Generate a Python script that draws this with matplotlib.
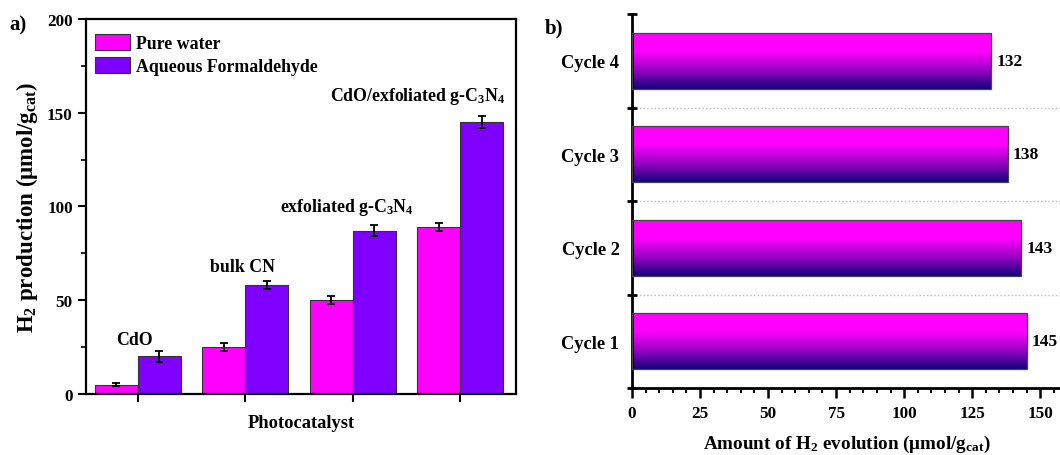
import numpy as np
import matplotlib
matplotlib.use('Agg')
import matplotlib.pyplot as plt
from matplotlib.colors import LinearSegmentedColormap
from matplotlib.ticker import MultipleLocator, FixedLocator

plt.rcParams['font.family'] = ['Liberation Serif', 'DejaVu Serif']
plt.rcParams['font.weight'] = 'bold'
plt.rcParams['mathtext.fontset'] = 'custom'
plt.rcParams['mathtext.rm'] = 'Liberation Serif:bold'
plt.rcParams['mathtext.it'] = 'Liberation Serif:bold'
plt.rcParams['mathtext.bf'] = 'Liberation Serif:bold'

# ---------------- data ----------------
catalysts = ['CdO', 'bulk CN', 'exfoliated g-C$_3$N$_4$', 'CdO/exfoliated g-C$_3$N$_4$']
pure_water = [5, 25, 50, 89]
pure_err = [1, 2, 2, 2]
formaldehyde = [20, 58, 87, 145]
form_err = [3, 2, 3, 3]

cycles = ['Cycle 1', 'Cycle 2', 'Cycle 3', 'Cycle 4']
cycle_values = [145, 143, 138, 132]

# annotation layout (offsets relative to group centre / bar top)
ann_dx = [-0.03, -0.02, -0.05, -0.40]
ann_dy = [6, 8, 10, 11]

fig = plt.figure(figsize=(10.6, 4.56), dpi=100)

# ---------------- panel a ----------------
ax = fig.add_axes([0.0811, 0.1338, 0.4057, 0.8224])
x = np.arange(len(catalysts))
w = 0.4
ax.bar(x - w / 2, pure_water, w, yerr=pure_err, color='#FF00FF', edgecolor='#333333',
       linewidth=0.8, capsize=3, error_kw=dict(elinewidth=1.3, capthick=1.3, ecolor='black'),
       label='Pure water')
ax.bar(x + w / 2, formaldehyde, w, yerr=form_err, color='#7F00FF', edgecolor='#333333',
       linewidth=0.8, capsize=3, error_kw=dict(elinewidth=1.3, capthick=1.3, ecolor='black'),
       label='Aqueous Formaldehyde')
for i, name in enumerate(catalysts):
    ax.text(x[i] + ann_dx[i], formaldehyde[i] + form_err[i] + ann_dy[i], name,
            ha='center', va='center', fontsize=12.8, fontweight='bold')

ax.set_xlim(-0.48, 3.52)
ax.set_ylim(0, 200)
ax.set_xticks(x)
ax.set_xticklabels([])
ax.yaxis.set_major_locator(MultipleLocator(50))
ax.yaxis.set_minor_locator(MultipleLocator(25))
ax.tick_params(axis='both', which='major', direction='out', length=6, width=1.5, labelsize=12.3)
ax.tick_params(axis='y', which='minor', direction='out', length=3.5, width=1.2)
for s in ax.spines.values():
    s.set_linewidth(1.6)
ax.set_xlabel('Photocatalyst', fontsize=13.3, fontweight='bold', labelpad=5)
ax.set_ylabel('H$_2$ production (μmol/g$_{cat}$)', fontsize=16.5, fontweight='bold', labelpad=5)
ax.legend(loc='upper left', bbox_to_anchor=(0.02, 0.96), frameon=False, fontsize=12.8,
          handlelength=2.0, handleheight=1.0, handletextpad=0.35, labelspacing=0.3,
          borderpad=0, borderaxespad=0)
fig.text(0.017, 0.945, 'a)', fontsize=15, fontweight='bold', ha='center', va='center')

# ---------------- panel b ----------------
bx = fig.add_axes([0.5962, 0.1469, 0.4057, 0.8202])
yb = np.arange(len(cycles)) + 0.5
bars = bx.barh(yb, cycle_values, height=0.6, facecolor='none', edgecolor='#444444',
               linewidth=0.9, zorder=3)
cmap = LinearSegmentedColormap.from_list('grad', ['#12007A', '#9A00C4', '#FF00FF', '#FF00FF'],
                                         N=256)
grad = np.linspace(0, 1, 256).reshape(-1, 1)
for b in bars:
    x0, y0 = b.get_x(), b.get_y()
    im = bx.imshow(grad, extent=[x0, x0 + b.get_width(), y0, y0 + b.get_height()],
                   origin='lower', aspect='auto', cmap=cmap, zorder=2)
    im.set_clip_path(b)
for yi, v in zip(yb, cycle_values):
    bx.text(v + 1.8, yi, str(v), ha='left', va='center', fontsize=12.5, fontweight='bold')

bx.set_xlim(0, 158)
bx.set_ylim(0, 4)
bx.set_yticks(yb)
bx.set_yticklabels(cycles)
boundaries = [0, 1, 2, 3, 4]
bx.yaxis.set_minor_locator(FixedLocator(boundaries))
bx.tick_params(axis='y', which='major', length=0, pad=9, labelsize=13.3)
bx.tick_params(axis='y', which='minor', direction='inout', length=7, width=2)
bx.xaxis.set_major_locator(MultipleLocator(25))
bx.xaxis.set_minor_locator(MultipleLocator(5))
bx.tick_params(axis='x', which='major', direction='out', length=7, width=1.8, labelsize=12.3, pad=5)
bx.tick_params(axis='x', which='minor', direction='out', length=3.5, width=1.5)
for yline in boundaries[1:-1]:
    bx.axhline(yline, linestyle=':', color='#BBBBBB', linewidth=1.0, zorder=1)
bx.spines['top'].set_visible(False)
bx.spines['right'].set_visible(False)
bx.spines['left'].set_linewidth(2)
bx.spines['bottom'].set_linewidth(2)
bx.set_xlabel('Amount of H$_2$ evolution (μmol/g$_{cat}$)', fontsize=13.8, fontweight='bold',
              labelpad=9)
fig.text(0.523, 0.938, 'b)', fontsize=15, fontweight='bold', ha='center', va='center')

fig.savefig('out.png', dpi=100)
